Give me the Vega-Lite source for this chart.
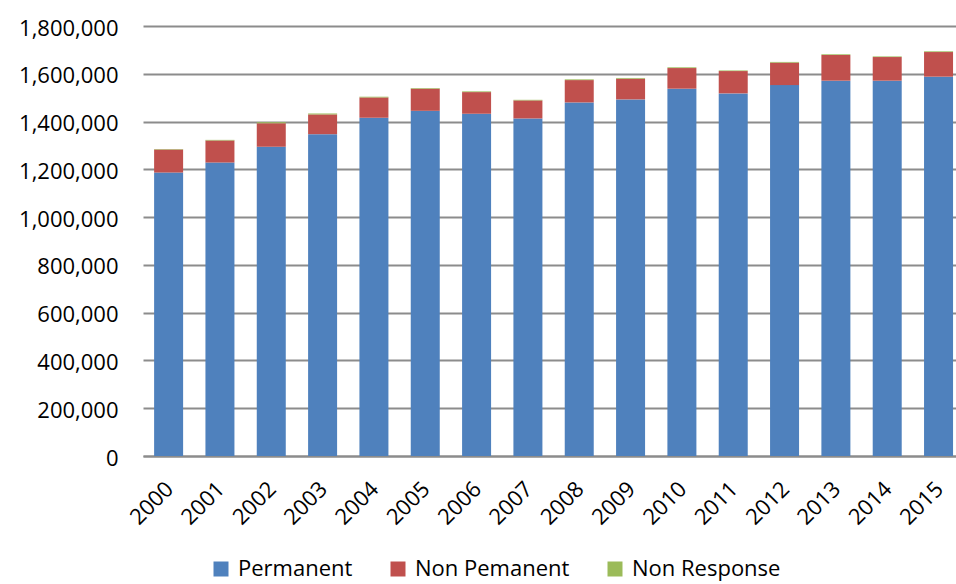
{
  "$schema": "https://vega.github.io/schema/vega-lite/v6.json",
  "autosize": "none",
  "width": 813,
  "height": 430,
  "padding": {"left": 143, "top": 26, "right": 0, "bottom": 128},
  "background": "white",
  "config": {
    "font": "Open Sans",
    "view": {"stroke": null},
    "axis": {"labelFont": "Open Sans", "labelColor": "#000000"},
    "legend": {"labelFont": "Open Sans", "labelColor": "#000000"}
  },
  "data": {
    "values": [
      {"year": "2000", "type": "Permanent", "rank": 1, "count": 1186600},
      {"year": "2000", "type": "Non Pemanent", "rank": 2, "count": 96400},
      {"year": "2000", "type": "Non Response", "rank": 3, "count": 2000},
      {"year": "2001", "type": "Permanent", "rank": 1, "count": 1228500},
      {"year": "2001", "type": "Non Pemanent", "rank": 2, "count": 92300},
      {"year": "2001", "type": "Non Response", "rank": 3, "count": 2500},
      {"year": "2002", "type": "Permanent", "rank": 1, "count": 1294400},
      {"year": "2002", "type": "Non Pemanent", "rank": 2, "count": 98900},
      {"year": "2002", "type": "Non Response", "rank": 3, "count": 4000},
      {"year": "2003", "type": "Permanent", "rank": 1, "count": 1347200},
      {"year": "2003", "type": "Non Pemanent", "rank": 2, "count": 82600},
      {"year": "2003", "type": "Non Response", "rank": 3, "count": 4000},
      {"year": "2004", "type": "Permanent", "rank": 1, "count": 1416000},
      {"year": "2004", "type": "Non Pemanent", "rank": 2, "count": 85000},
      {"year": "2004", "type": "Non Response", "rank": 3, "count": 3000},
      {"year": "2005", "type": "Permanent", "rank": 1, "count": 1445000},
      {"year": "2005", "type": "Non Pemanent", "rank": 2, "count": 92600},
      {"year": "2005", "type": "Non Response", "rank": 3, "count": 2500},
      {"year": "2006", "type": "Permanent", "rank": 1, "count": 1432700},
      {"year": "2006", "type": "Non Pemanent", "rank": 2, "count": 90600},
      {"year": "2006", "type": "Non Response", "rank": 3, "count": 3000},
      {"year": "2007", "type": "Permanent", "rank": 1, "count": 1413000},
      {"year": "2007", "type": "Non Pemanent", "rank": 2, "count": 75500},
      {"year": "2007", "type": "Non Response", "rank": 3, "count": 2500},
      {"year": "2008", "type": "Permanent", "rank": 1, "count": 1480000},
      {"year": "2008", "type": "Non Pemanent", "rank": 2, "count": 93600},
      {"year": "2008", "type": "Non Response", "rank": 3, "count": 3000},
      {"year": "2009", "type": "Permanent", "rank": 1, "count": 1492700},
      {"year": "2009", "type": "Non Pemanent", "rank": 2, "count": 86800},
      {"year": "2009", "type": "Non Response", "rank": 3, "count": 3000},
      {"year": "2010", "type": "Permanent", "rank": 1, "count": 1537600},
      {"year": "2010", "type": "Non Pemanent", "rank": 2, "count": 86400},
      {"year": "2010", "type": "Non Response", "rank": 3, "count": 3000},
      {"year": "2011", "type": "Permanent", "rank": 1, "count": 1517900},
      {"year": "2011", "type": "Non Pemanent", "rank": 2, "count": 93500},
      {"year": "2011", "type": "Non Response", "rank": 3, "count": 2500},
      {"year": "2012", "type": "Permanent", "rank": 1, "count": 1552700},
      {"year": "2012", "type": "Non Pemanent", "rank": 2, "count": 93900},
      {"year": "2012", "type": "Non Response", "rank": 3, "count": 3000},
      {"year": "2013", "type": "Permanent", "rank": 1, "count": 1571100},
      {"year": "2013", "type": "Non Pemanent", "rank": 2, "count": 107400},
      {"year": "2013", "type": "Non Response", "rank": 3, "count": 3000},
      {"year": "2014", "type": "Permanent", "rank": 1, "count": 1571100},
      {"year": "2014", "type": "Non Pemanent", "rank": 2, "count": 99000},
      {"year": "2014", "type": "Non Response", "rank": 3, "count": 2500},
      {"year": "2015", "type": "Permanent", "rank": 1, "count": 1587900},
      {"year": "2015", "type": "Non Pemanent", "rank": 2, "count": 103100},
      {"year": "2015", "type": "Non Response", "rank": 3, "count": 3000}
    ]
  },
  "mark": {"type": "bar"},
  "encoding": {
    "x": {
      "field": "year",
      "type": "ordinal",
      "title": null,
      "scale": {"paddingInner": 0.435, "paddingOuter": 0.137, "align": 0.79},
      "axis": {
        "labelAngle": -45,
        "labelAlign": "right",
        "labelBaseline": "top",
        "labelFontSize": 22,
        "labelPadding": 22,
        "labelOffset": -6,
        "ticks": false,
        "domainColor": "#8c8c8c",
        "domainWidth": 2
      }
    },
    "y": {
      "field": "count",
      "type": "quantitative",
      "stack": "zero",
      "title": null,
      "scale": {"domain": [0, 1800000], "nice": false},
      "axis": {
        "values": [0, 200000, 400000, 600000, 800000, 1000000, 1200000, 1400000, 1600000, 1800000],
        "format": ",d",
        "labelFontSize": 22,
        "labelPadding": 25,
        "labelOffset": 2,
        "ticks": false,
        "domain": false,
        "grid": true,
        "gridColor": "#8c8c8c",
        "gridWidth": 2
      }
    },
    "color": {
      "field": "type",
      "type": "nominal",
      "title": null,
      "scale": {
        "domain": ["Permanent", "Non Pemanent", "Non Response"],
        "range": ["#4F81BD", "#C0504D", "#9BBB59"]
      },
      "legend": {
        "orient": "none",
        "direction": "horizontal",
        "legendX": 67,
        "legendY": 532,
        "symbolType": "square",
        "symbolSize": 225,
        "symbolStrokeWidth": 0,
        "labelFontSize": 22,
        "labelOffset": 6,
        "columnPadding": 34
      }
    },
    "order": {"field": "rank", "type": "quantitative"}
  }
}
